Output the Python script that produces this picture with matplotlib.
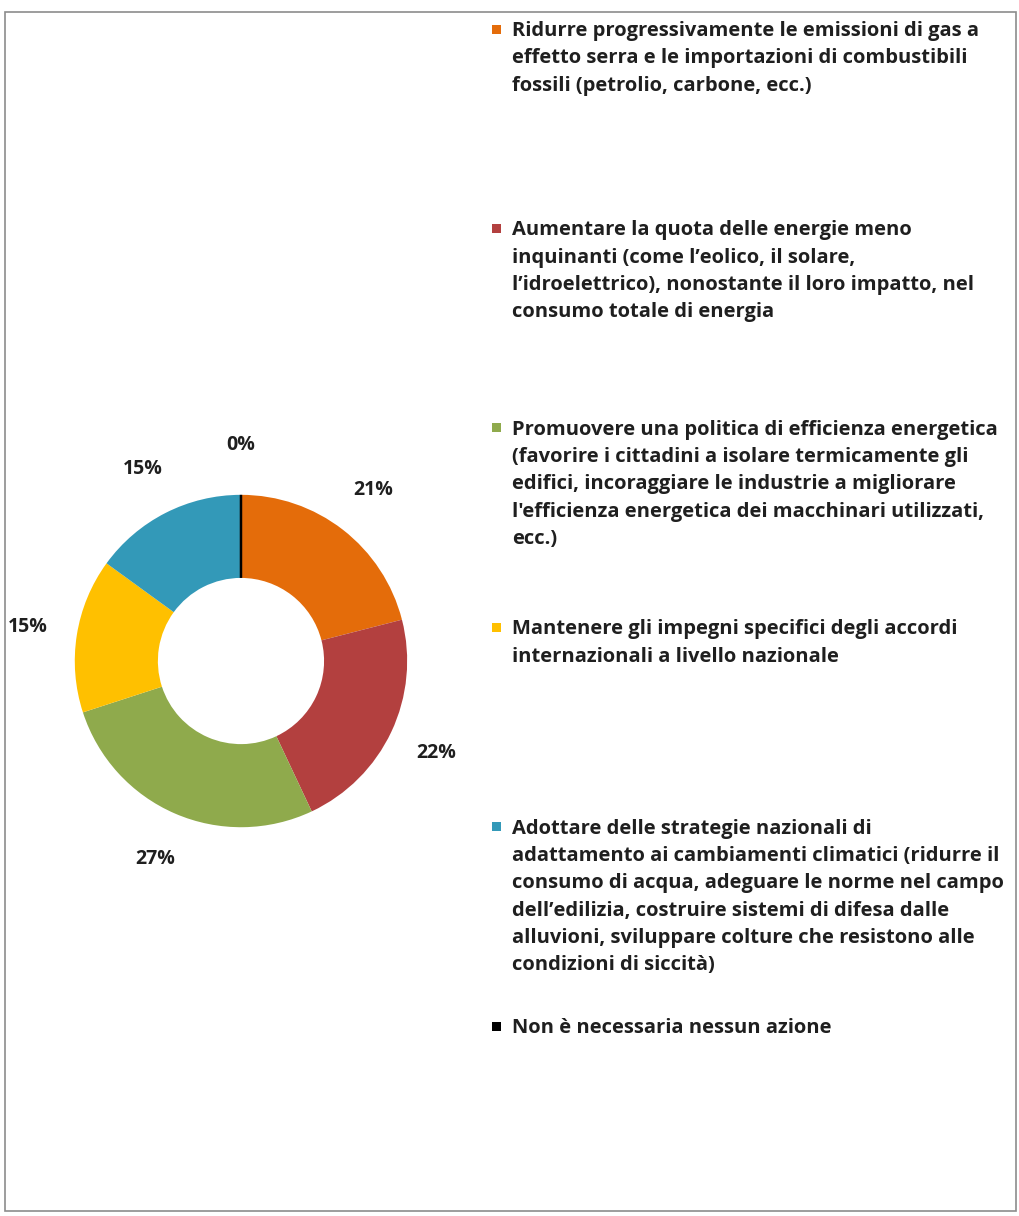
import matplotlib
matplotlib.use("Agg")
import matplotlib.pyplot as plt
from matplotlib.patches import Rectangle

# share of answers per proposed action
labels = [
    "Ridurre progressivamente le emissioni di gas a\neffetto serra e le importazioni di combustibili\nfossili (petrolio, carbone, ecc.)",
    "Aumentare la quota delle energie meno\ninquinanti (come l\u2019eolico, il solare,\nl\u2019idroelettrico), nonostante il loro impatto, nel\nconsumo totale di energia",
    "Promuovere una politica di efficienza energetica\n(favorire i cittadini a isolare termicamente gli\nedifici, incoraggiare le industrie a migliorare\nl'efficienza energetica dei macchinari utilizzati,\necc.)",
    "Mantenere gli impegni specifici degli accordi\ninternazionali a livello nazionale",
    "Adottare delle strategie nazionali di\nadattamento ai cambiamenti climatici (ridurre il\nconsumo di acqua, adeguare le norme nel campo\ndell\u2019edilizia, costruire sistemi di difesa dalle\nalluvioni, sviluppare colture che resistono alle\ncondizioni di siccit\u00e0)",
    "Non \u00e8 necessaria nessun azione",
]
values = [21, 22, 27, 15, 15, 0]
colors = ["#E46C0A", "#B3403F", "#8FAA4C", "#FFC000", "#3399B8", "#000000"]

FONT = "Open Sans"
TXT = "#1f1f1f"

fig = plt.figure(figsize=(10.2, 12.16), dpi=100)
fig.patch.set_facecolor("white")

# outer frame
fig.patches.append(Rectangle((5 / 1020, 5 / 1216), 1011 / 1020, 1199 / 1216,
                             transform=fig.transFigure, fill=False,
                             edgecolor="#8c8c8c", linewidth=1.2))

ax = fig.add_axes([0, 0.2582, 0.4725, 0.3964])
wedges, texts, autotexts = ax.pie(
    values, colors=colors, startangle=90, counterclock=False,
    wedgeprops=dict(width=0.5, edgecolor="none"),
    autopct=lambda p: f"{p:.0f}%", pctdistance=1.3,
    textprops=dict(fontsize=14, fontweight="bold", color=TXT, family=FONT),
)
# the empty answer still shows up as a thin black divider
wedges[-1].set_edgecolor("#000000")
wedges[-1].set_linewidth(1.8)
ax.set_xlim(-1.45, 1.45)
ax.set_ylim(-1.45, 1.45)
ax.set_aspect("equal")
ax.axis("off")

# legend on the right, entries evenly spaced from the top
x_box, x_txt = 492, 512
top0, step = 29, 199.4
for i, (lab, col) in enumerate(zip(labels, colors)):
    yc = top0 + i * step
    fig.patches.append(Rectangle((x_box / 1020, 1 - (yc + 4.5) / 1216), 9 / 1020, 9 / 1216,
                                 transform=fig.transFigure, facecolor=col, edgecolor="none"))
    fig.text(x_txt / 1020, 1 - (yc - 8) / 1216, lab, ha="left", va="top",
             fontsize=14.5, fontweight="bold", color=TXT, family=FONT,
             linespacing=1.49)

fig.savefig("out.png", dpi=100)
